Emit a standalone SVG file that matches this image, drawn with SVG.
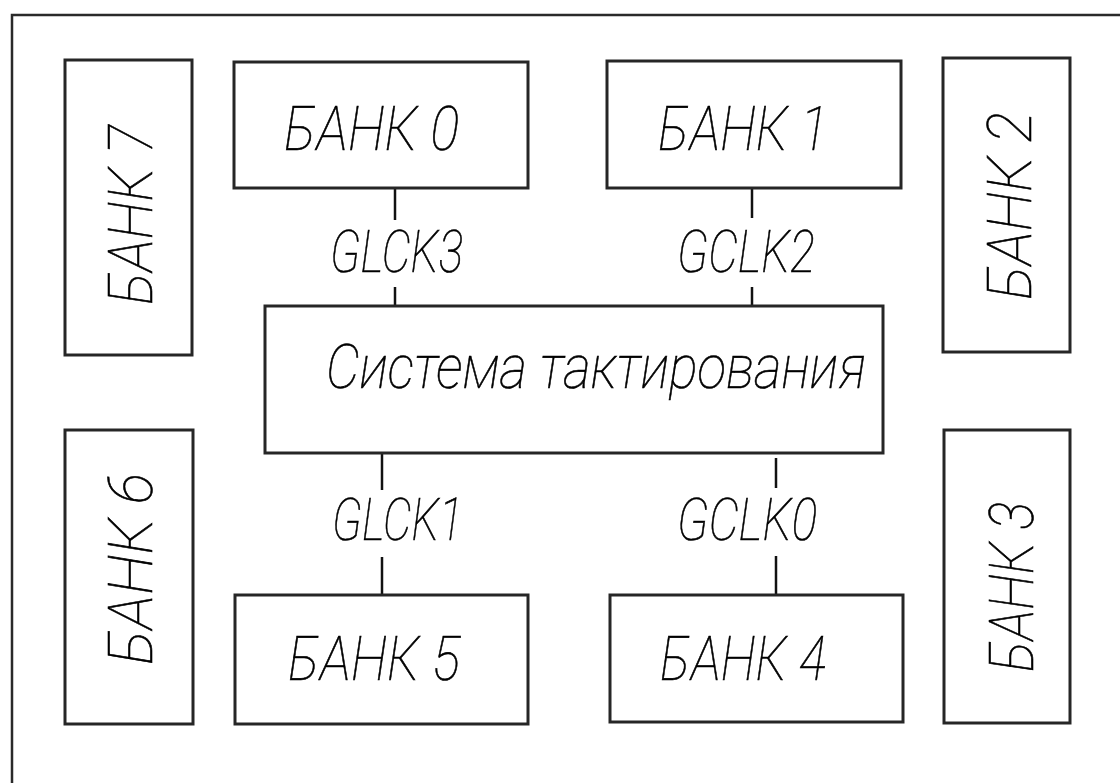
<svg xmlns="http://www.w3.org/2000/svg" width="1120" height="783" viewBox="0 0 1120 783">
  <style>
    .frame { fill: none; stroke: #2a2a2a; stroke-width: 2.5; }
    .box { fill: #ffffff; stroke: #262626; stroke-width: 3; }
    .wire { fill: none; stroke: #111111; stroke-width: 2.5; }
    .lbl { font-family: Roboto, "Liberation Sans Narrow", sans-serif; font-style: italic; font-weight: 100; fill: #000000; stroke: #000000; stroke-width: 0.6; }
    .bank { font-size: 62px; }
    .clk { font-size: 60px; }
    .sys { font-size: 62px; }
  </style>
  <rect width="1120" height="783" fill="#ffffff"/>
  <!-- outer border of the chip -->
  <rect class="frame" x="12" y="15" width="1130" height="800"/>

  <!-- clock lines between the clocking system and the banks -->
  <g id="connectors">
    <line class="wire" x1="395" y1="188" x2="395" y2="220"/>
    <line class="wire" x1="395" y1="287" x2="395" y2="306"/>
    <line class="wire" x1="752" y1="188" x2="752" y2="218"/>
    <line class="wire" x1="752" y1="287" x2="752" y2="306"/>
    <line class="wire" x1="382" y1="454" x2="382" y2="490"/>
    <line class="wire" x1="382" y1="557" x2="382" y2="595"/>
    <line class="wire" x1="776" y1="458" x2="776" y2="488"/>
    <line class="wire" x1="776" y1="556" x2="776" y2="595"/>
    <text class="lbl clk" x="330" y="272" textLength="133" lengthAdjust="spacingAndGlyphs">GLCK3</text>
    <text class="lbl clk" x="677" y="272" textLength="138" lengthAdjust="spacingAndGlyphs">GCLK2</text>
    <text class="lbl clk" x="332" y="540" textLength="131" lengthAdjust="spacingAndGlyphs">GLCK1</text>
    <text class="lbl clk" x="677" y="540" textLength="140" lengthAdjust="spacingAndGlyphs">GCLK0</text>
  </g>

  <g id="bank0">
    <rect class="box" x="234" y="62" width="294" height="126"/>
    <text class="lbl bank" x="284" y="150" textLength="175" lengthAdjust="spacingAndGlyphs">БАНК 0</text>
  </g>
  <g id="bank1">
    <rect class="box" x="607" y="61" width="294" height="127"/>
    <text class="lbl bank" x="658" y="150" textLength="170" lengthAdjust="spacingAndGlyphs">БАНК 1</text>
  </g>
  <g id="bank2">
    <rect class="box" x="943" y="58" width="127" height="294"/>
    <text class="lbl bank" transform="translate(1031 300) rotate(-90)" x="0" y="0" textLength="188" lengthAdjust="spacingAndGlyphs">БАНК 2</text>
  </g>
  <g id="bank3">
    <rect class="box" x="944" y="430" width="126" height="293"/>
    <text class="lbl bank" transform="translate(1033 672) rotate(-90)" x="0" y="0" textLength="170" lengthAdjust="spacingAndGlyphs">БАНК 3</text>
  </g>
  <g id="bank4">
    <rect class="box" x="610" y="595" width="293" height="127"/>
    <text class="lbl bank" x="660" y="680" textLength="166" lengthAdjust="spacingAndGlyphs">БАНК 4</text>
  </g>
  <g id="bank5">
    <rect class="box" x="235" y="595" width="293" height="129"/>
    <text class="lbl bank" x="288" y="680" textLength="172" lengthAdjust="spacingAndGlyphs">БАНК 5</text>
  </g>
  <g id="bank6">
    <rect class="box" x="65" y="430" width="128" height="294"/>
    <text class="lbl bank" transform="translate(152 665) rotate(-90)" x="0" y="0" textLength="192" lengthAdjust="spacingAndGlyphs">БАНК 6</text>
  </g>
  <g id="bank7">
    <rect class="box" x="65" y="60" width="127" height="295"/>
    <text class="lbl bank" transform="translate(152 305) rotate(-90)" x="0" y="0" textLength="180" lengthAdjust="spacingAndGlyphs">БАНК 7</text>
  </g>

  <g id="clock-system">
    <rect class="box" x="265" y="306" width="618" height="147"/>
    <text class="lbl sys" x="326" y="388" textLength="540" lengthAdjust="spacingAndGlyphs">Система тактирования</text>
  </g>
</svg>
